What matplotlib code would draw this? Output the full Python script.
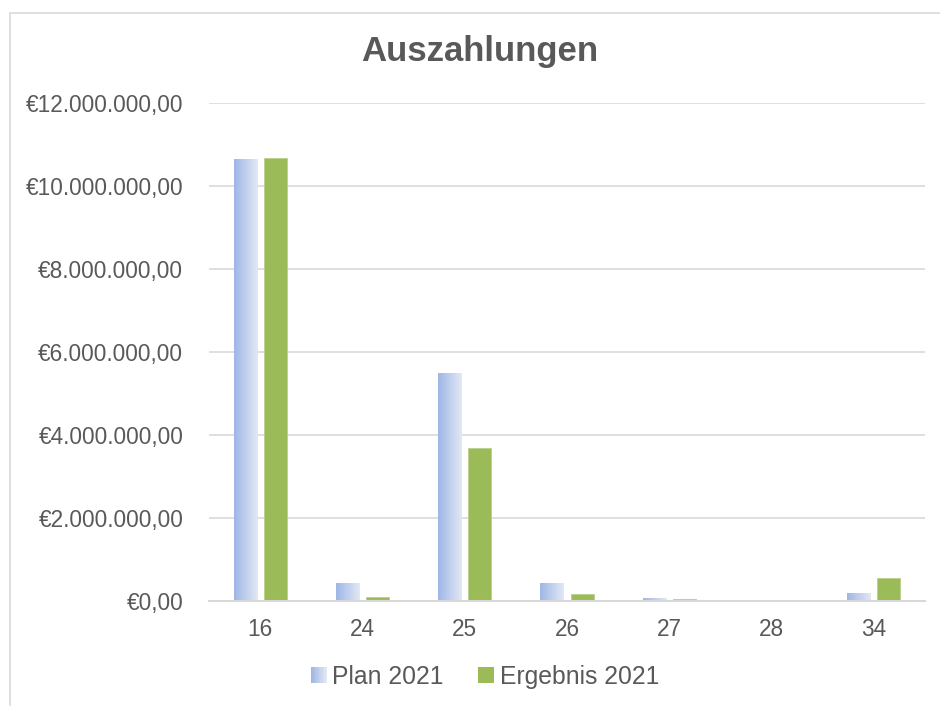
import numpy as np
import matplotlib
matplotlib.use("Agg")
import matplotlib.pyplot as plt
from matplotlib.patches import Rectangle
from matplotlib.ticker import FuncFormatter, MultipleLocator
from matplotlib.legend_handler import HandlerBase
from matplotlib.colors import to_rgb

categories = ["16", "24", "25", "26", "27", "28", "34"]
plan_2021 = [10650000, 410000, 5490000, 430000, 70000, 0, 170000]
ergebnis_2021 = [10670000, 100000, 3680000, 170000, 60000, 0, 550000]
series_names = ["Plan 2021", "Ergebnis 2021"]
title = "Auszahlungen"

plt.rcParams['font.family'] = ['Liberation Sans', 'DejaVu Sans']
TXT = "#595959"
GRID = "#D9D9D9"
GREEN = "#9BBB59"
GRAD_L = np.array(to_rgb("#9FB7E6"))
GRAD_R = np.array(to_rgb("#E2E8F5"))

W, H = 940, 706
fig = plt.figure(figsize=(W / 100, H / 100), dpi=100)
fig.patch.set_facecolor("white")

# chart-area border (extends past right/bottom edges)
fig.patches.append(Rectangle((10 / W, -0.05), 1.2, (H - 13) / H + 0.05,
                             transform=fig.transFigure, fill=False,
                             edgecolor=GRID, linewidth=1.2, zorder=0))

ax = fig.add_axes([209 / W, (H - 601) / H, (925 - 209) / W, 498 / H])
ax.set_facecolor("none")

x = np.arange(len(categories))
bw = 0.225
off = 0.147

grad = np.linspace(0, 1, 64)
grad_img = (GRAD_L[None, None, :] * (1 - grad)[None, :, None]
            + GRAD_R[None, None, :] * grad[None, :, None])

for xi, v in zip(x, plan_2021):
    if v > 0:
        x0 = xi - off - bw / 2
        ax.imshow(grad_img, extent=[x0, x0 + bw, 0, v], aspect='auto',
                  interpolation='bilinear', zorder=3)
ax.bar(x + off, ergebnis_2021, width=bw, color=GREEN, edgecolor="#B9CF8B",
       linewidth=0.6, zorder=3)

ax.set_xlim(-0.5, len(categories) - 0.5)
ax.set_ylim(0, 12000000)
ax.yaxis.set_major_locator(MultipleLocator(2000000))


def euro(v, pos):
    s = f"{v:,.2f}".replace(",", "X").replace(".", ",").replace("X", ".")
    return "€" + s


ax.yaxis.set_major_formatter(FuncFormatter(euro))
ax.set_xticks(x)
ax.set_xticklabels(categories)
ax.grid(axis='y', color=GRID, linewidth=1.2, zorder=0)
ax.set_axisbelow(True)
for s in ["top", "right", "left"]:
    ax.spines[s].set_visible(False)
ax.spines["bottom"].set_color(GRID)
ax.spines["bottom"].set_linewidth(1.5)
ax.spines["bottom"].set_zorder(4)
ax.tick_params(axis='both', length=0, colors=TXT, labelsize=16.3)
ax.tick_params(axis='y', pad=18.5)
ax.tick_params(axis='x', pad=12)

fig.text(480 / W, 1 - 52 / H, title, ha='center', va='center',
         fontsize=25, fontweight='bold', color=TXT)


class GradHandler(HandlerBase):
    def create_artists(self, legend, orig_handle, xdescent, ydescent,
                       width, height, fontsize, trans):
        arts = []
        n = 12
        side = height * 0.85
        x0 = xdescent + (width - side) / 2
        y0 = -ydescent + (height - side) / 2
        for i in range(n):
            t = i / (n - 1)
            c = GRAD_L * (1 - t) + GRAD_R * t
            r = Rectangle((x0 + i * side / n, y0), side / n + 0.3, side,
                          facecolor=c, edgecolor='none', transform=trans)
            arts.append(r)
        return arts


class SquareHandler(HandlerBase):
    def create_artists(self, legend, orig_handle, xdescent, ydescent,
                       width, height, fontsize, trans):
        side = height * 0.85
        x0 = xdescent + (width - side) / 2
        y0 = -ydescent + (height - side) / 2
        return [Rectangle((x0, y0), side, side, facecolor=GREEN,
                          edgecolor='none', transform=trans)]


h1 = Rectangle((0, 0), 1, 1)
h2 = Rectangle((0, 0), 1, 1, facecolor=GREEN)
leg = fig.legend([h1, h2], series_names, loc='center',
                 bbox_to_anchor=(484 / W, 1 - 677 / H), ncol=2, frameon=False,
                 fontsize=17.8, handler_map={h1: GradHandler(), h2: SquareHandler()},
                 handlelength=0.8, handleheight=0.8, handletextpad=0.15,
                 columnspacing=1.3, labelcolor=TXT)

fig.savefig("out.png", dpi=100, facecolor="white")
